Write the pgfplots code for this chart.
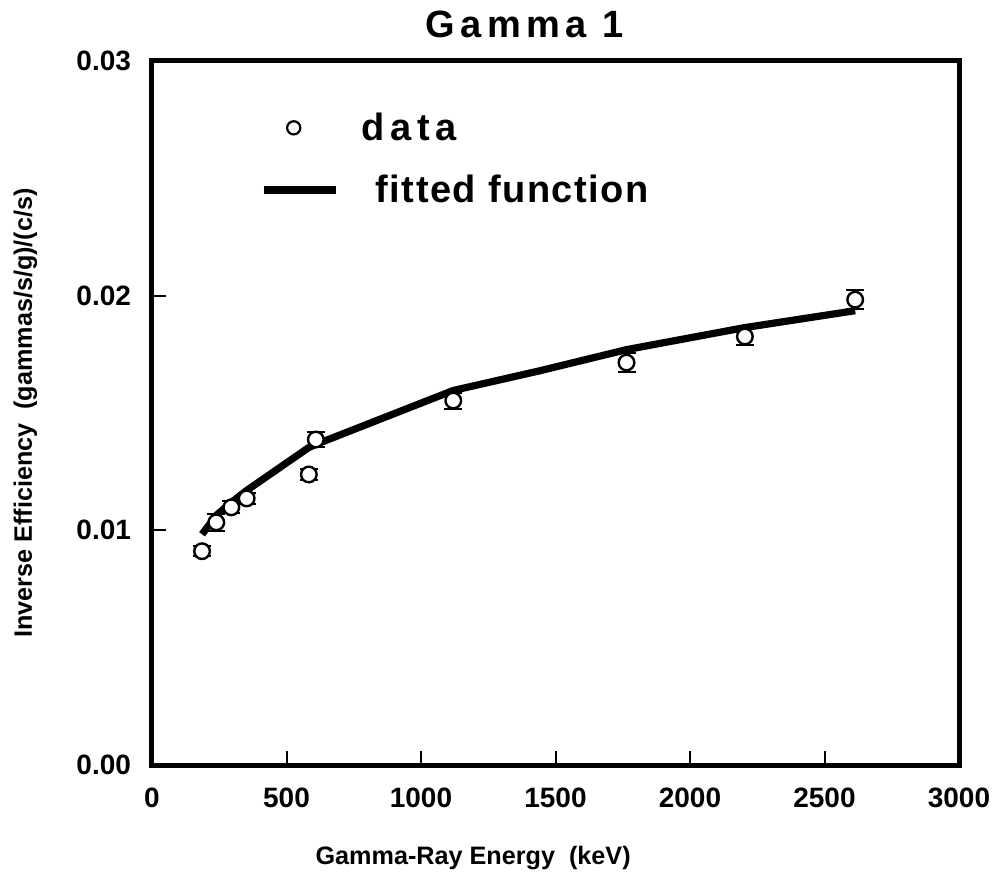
\documentclass[border=0pt]{standalone}
\usepackage{fontspec}
\setmainfont{Liberation Sans}
\usepackage{pgfplots}
\pgfplotsset{compat=1.18}
\begin{document}
\begin{tikzpicture}[font=\bfseries]
\useasboundingbox (-76pt,-58.5pt) rectangle (423.5pt,382.5pt);
\begin{axis}[
  at={(0pt,0pt)}, anchor=origin,
  scale only axis, width=403.5pt, height=352pt,
  xmin=0, xmax=3000, ymin=0, ymax=0.03,
  xtick={0,500,1000,1500,2000,2500,3000},
  ytick={0,0.01,0.02,0.03},
  yticklabels={0.00,0.01,0.02,0.03},
  scaled y ticks=false,
  /pgf/number format/1000 sep={},
  /pgf/number format/assume math mode=true,
  xticklabel style={font=\fontsize{14}{16}\selectfont\bfseries, yshift=-8pt},
  yticklabel style={font=\fontsize{14}{16}\selectfont\bfseries, xshift=-7pt},
  tick align=inside, xtick pos=bottom, ytick pos=left,
  major tick length=7pt,
  tick style={line width=1pt, black},
  axis line style={line width=2.5pt},
  axis lines=box,
  xlabel={Gamma-Ray Energy\ \ (keV)},
  ylabel={Inverse Efficiency\ \ (gammas/s/g)/(c/s)},
  label style={font=\fontsize{12.6}{15}\selectfont\bfseries},
  xlabel style={at={(axis description cs:0.398,-0.132)}, anchor=center},
  ylabel style={at={(axis description cs:-0.157,0.5)}, anchor=center},
  title={\addfontfeature{LetterSpace=14}Gamma 1},
  title style={font=\fontsize{19}{22}\selectfont\bfseries, at={(axis description cs:0.462,1.016)}, anchor=base, inner sep=0pt},
  legend style={draw=none, fill=none, at={(axis description cs:0.133,0.933)}, anchor=north west,
    font=\fontsize{19}{22}\selectfont\bfseries, row sep=12pt, inner sep=0pt},
  legend cell align=left,
  clip=false,
]
\addplot[only marks, mark=none, forget plot,
  error bars/.cd, y dir=both, y explicit,
  error bar style={line width=1pt},
  error mark options={rotate=90, mark size=4.5pt, line width=1pt},
] coordinates {
  (186,0.00911) +- (0,0.00022)
  (239,0.01034) +- (0,0.00036)
  (295,0.01098) +- (0,0.00026)
  (352,0.01136) +- (0,0.00024)
  (583,0.01238) +- (0,0.00022)
  (609,0.01387) +- (0,0.00030)
  (1120,0.01553) +- (0,0.00034)
  (1764,0.01715) +- (0,0.00040)
  (2204,0.01826) +- (0,0.00038)
  (2614,0.01983) +- (0,0.00040)
};
\addplot[only marks, mark=*, mark size=3.9pt, mark options={line width=1.2pt, draw=black, fill=white},
  legend image code/.code={\draw[line width=1.1pt, fill=white] (15pt,0pt) circle (3.3pt); \path (0pt,0pt) (36pt,0pt);}
] coordinates {
  (186,0.00911) (239,0.01034) (295,0.01098) (352,0.01136) (583,0.01238)
  (609,0.01387) (1120,0.01553) (1764,0.01715) (2204,0.01826) (2614,0.01983)
};
\addlegendentry{\hspace{9pt}\addfontfeature{LetterSpace=15}data}
\addplot[line width=3.6pt, black, line join=round, mark=none,
  legend image code/.code={\draw[line width=4pt] (0pt,0pt) -- (36pt,0pt);}
] coordinates {
  (186,0.00983) (239,0.01064) (295,0.01119) (352,0.0117) (583,0.01353) (609,0.01366)
  (822,0.01462) (1120,0.01596) (1442,0.0168) (1764,0.0177) (2204,0.01864) (2614,0.01936)
};
\addlegendentry{\hspace{16pt}\addfontfeature{LetterSpace=4}fitted function}
\end{axis}
\end{tikzpicture}
\end{document}
